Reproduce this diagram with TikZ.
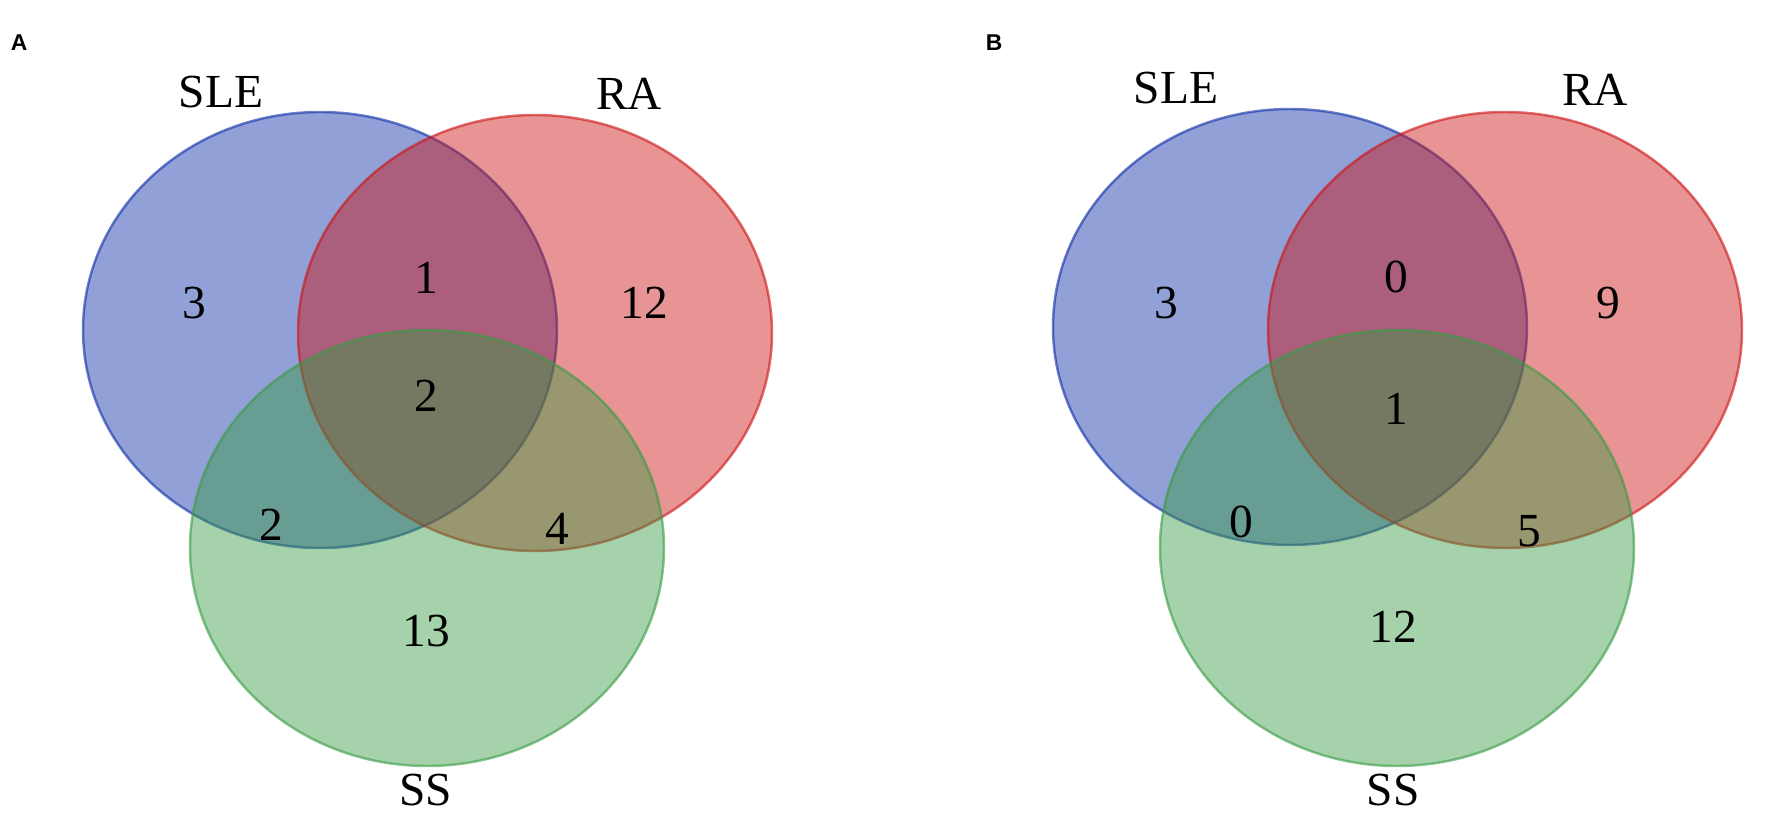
\documentclass[tikz,border=0pt]{standalone}
\usepackage{fontspec}
\setmainfont{Liberation Serif}
\newfontfamily\panelfont{Liberation Sans}
\usepackage{tikz}
\definecolor{sleblue}{RGB}{11,44,166}
\definecolor{rared}{RGB}{204,17,17}
\definecolor{ssgreen}{RGB}{55,155,66}

\begin{document}
\begin{tikzpicture}
            [x=0.02cm, y=-0.02cm,
             venn/.style={line width=1.4pt, fill opacity=0.45, draw opacity=0.6},
             setname/.style={font=\fontsize{27}{32}\selectfont},
             count/.style={font=\fontsize{27}{32}\selectfont},
             panel/.style={font=\panelfont\bfseries\fontsize{13}{15}\selectfont}]
            \useasboundingbox (0,0) rectangle (1772,814);
            % panel A
            \node [panel] (pa) at (19,43) {A};
            \draw [venn, draw=sleblue, fill=sleblue] (320,330) ellipse [x radius=237, y radius=218];
            \draw [venn, draw=rared, fill=rared] (535,333) ellipse [x radius=237, y radius=218];
            \draw [venn, draw=ssgreen, fill=ssgreen] (427,548) ellipse [x radius=237, y radius=218];
            \node [setname] (slea) at (221,92) {SLE};
            \node [setname] (raa) at (629,94) {RA};
            \node [setname] (ssa) at (426,790) {SS};
            \node [count] (a3) at (194,303) {3};
            \node [count] (a1) at (426,278) {1};
            \node [count] (a12) at (644,303) {12};
            \node [count] (a2m) at (426,396) {2};
            \node [count] (a2l) at (271,525) {2};
            \node [count] (a4) at (557,529) {4};
            \node [count] (a13) at (426,631) {13};
            % panel B
            \node [panel] (pb) at (994,43) {B};
            \draw [venn, draw=sleblue, fill=sleblue] (1290,327) ellipse [x radius=237, y radius=218];
            \draw [venn, draw=rared, fill=rared] (1505,330) ellipse [x radius=237, y radius=218];
            \draw [venn, draw=ssgreen, fill=ssgreen] (1397,548) ellipse [x radius=237, y radius=218];
            \node [setname] (sleb) at (1176,88) {SLE};
            \node [setname] (rab) at (1595,90) {RA};
            \node [setname] (ssb) at (1393,790) {SS};
            \node [count] (b3) at (1166,303) {3};
            \node [count] (b0t) at (1396,277) {0};
            \node [count] (b9) at (1608,303) {9};
            \node [count] (b1) at (1396,409) {1};
            \node [count] (b0l) at (1241,522) {0};
            \node [count] (b5) at (1529,531) {5};
            \node [count] (b12) at (1393,627) {12};
        \end{tikzpicture}
\end{document}
